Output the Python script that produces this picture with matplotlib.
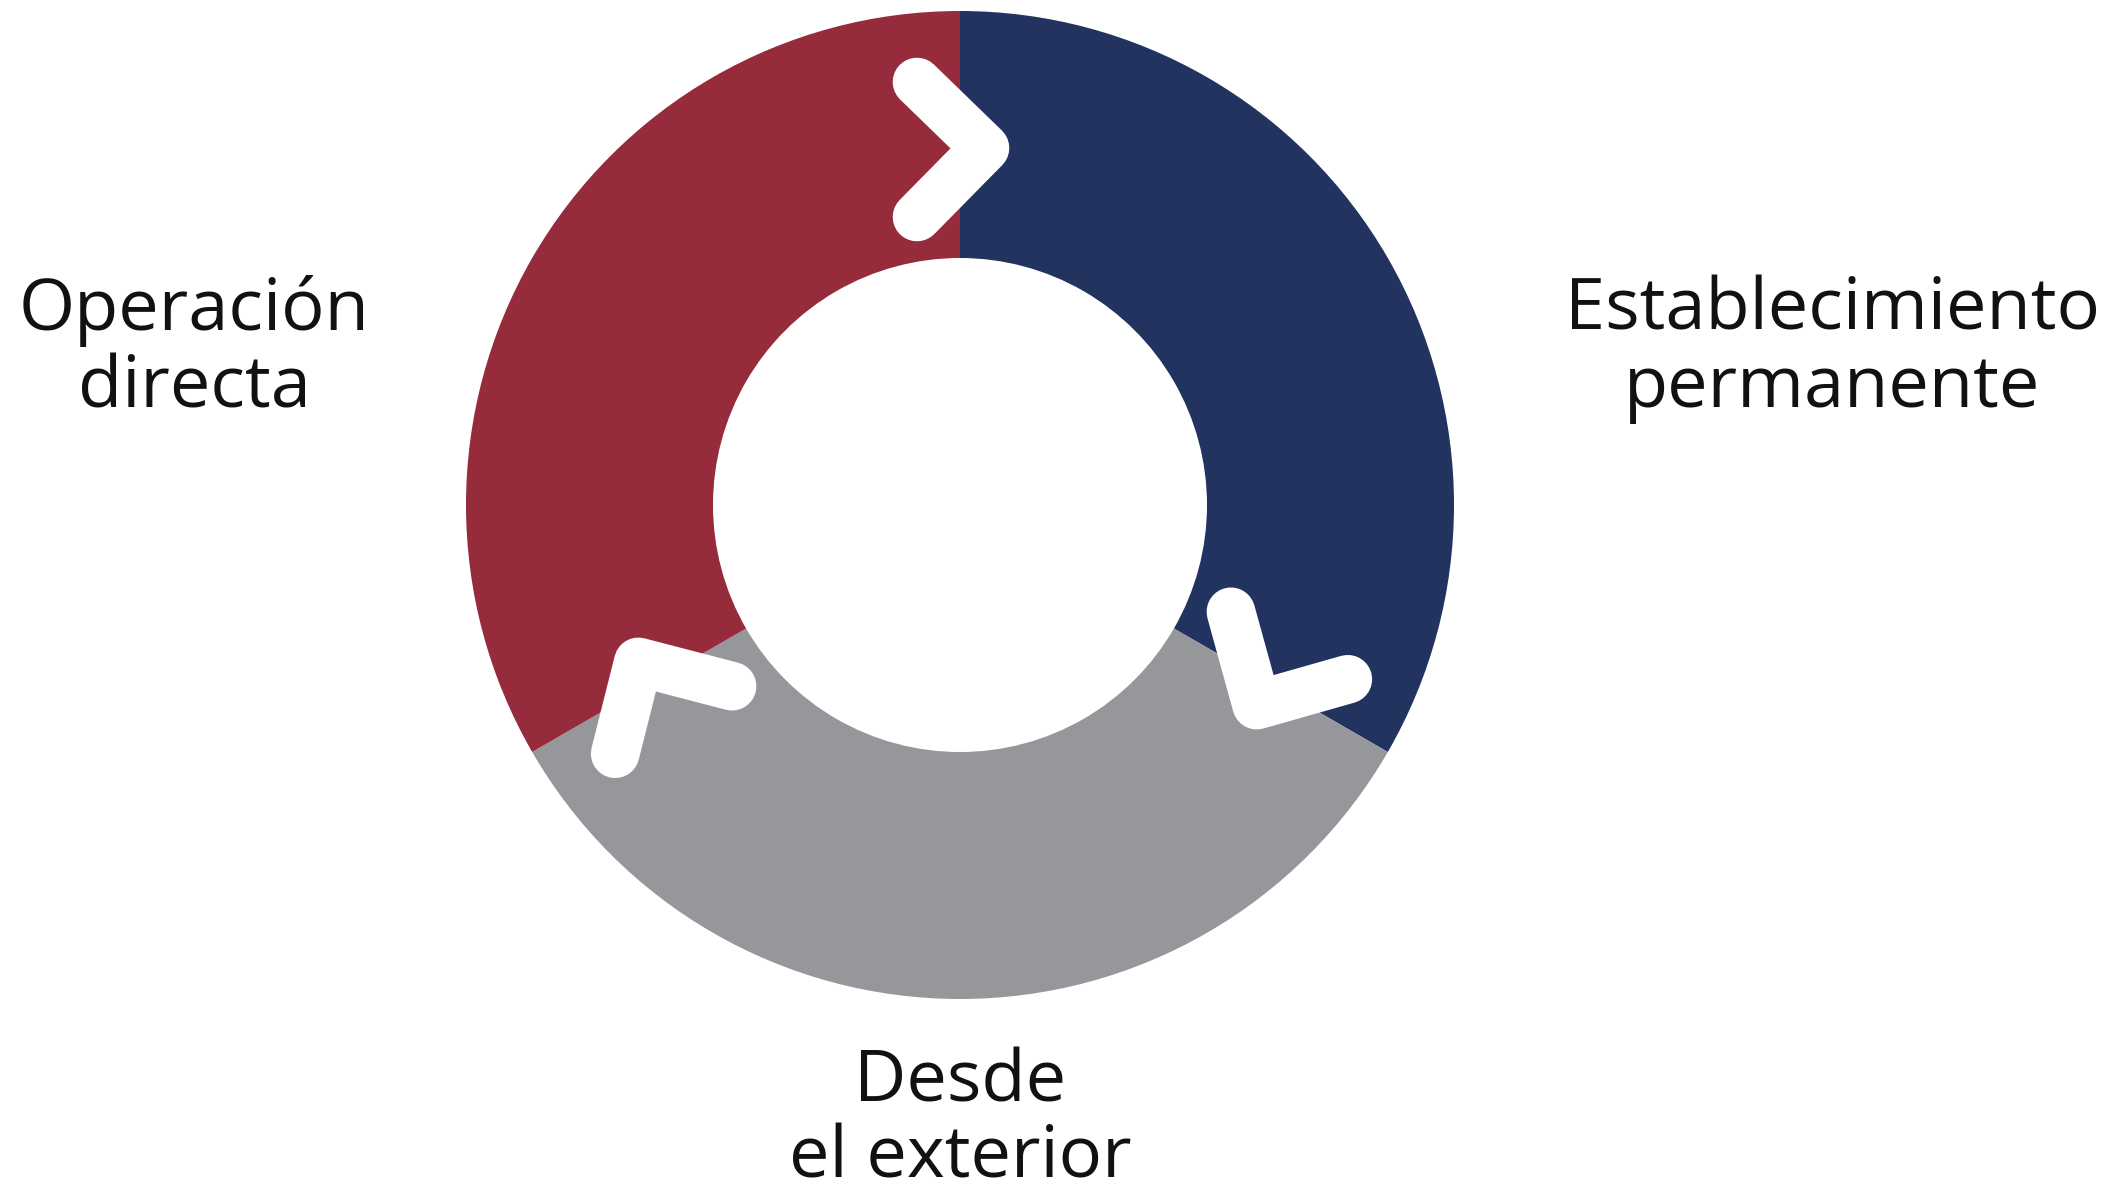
import numpy as np
import matplotlib
matplotlib.use("Agg")
import matplotlib.pyplot as plt

# three equal parts of the cycle, clockwise from the top
segments = ["Establecimiento\npermanente", "Desde\nel exterior", "Operación\ndirecta"]
shares = [1, 1, 1]
colors = ["#223360", "#96979b", "#962b3c"]

W, H = 2112, 1189
CX, CY = 960, H - 505
R_OUT, R_IN = 494, 247

# label anchors (pixel, y from top) for the first line baseline
label_xy = [(1832, 330), (960, 1101), (194, 330)]

# chevron template at the top boundary, offsets from centre (y up)
chev = np.array([[-43, 423], [25, 357], [-43, 288]], dtype=float)
chev_rot = [0, -120, 120]

fig = plt.figure(figsize=(W / 100, H / 100), dpi=100)
ax = fig.add_axes([0, 0, 1, 1])
ax.pie(shares, colors=colors, startangle=90, counterclock=False,
       center=(CX, CY), radius=R_OUT,
       wedgeprops=dict(width=R_OUT - R_IN, linewidth=0))

for a in chev_rot:
    t = np.deg2rad(a)
    rot = np.array([[np.cos(t), -np.sin(t)], [np.sin(t), np.cos(t)]])
    p = chev @ rot.T
    ax.plot(p[:, 0] + CX, p[:, 1] + CY, color="white", lw=35,
            solid_capstyle="round", solid_joinstyle="round")

for txt, (x, y) in zip(segments, label_xy):
    for i, line in enumerate(txt.split("\n")):
        ax.text(x, H - y - i * 77, line, ha="center", va="baseline",
                fontsize=52, family=["Open Sans", "DejaVu Sans"],
                color="#111111")

ax.set_xlim(0, W)
ax.set_ylim(0, H)
ax.set_aspect("equal")
ax.axis("off")
fig.savefig("out.png", dpi=100, facecolor="white")
